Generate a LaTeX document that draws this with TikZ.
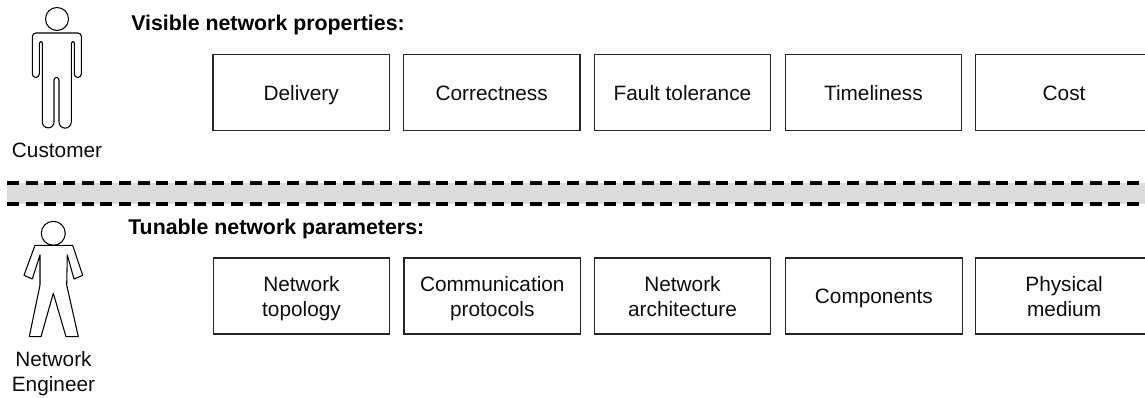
\documentclass[tikz,border=0pt]{standalone}
\usepackage{fontspec}
\setmainfont{Liberation Sans}
\newcommand{\lineprop}{\rule[-3.4pt]{0pt}{18.8pt}}
\tikzset{
  x=0.75pt,y=-0.75pt,
  txt/.style={font=\fontsize{15.6pt}{18.8pt}\selectfont,align=center,inner sep=0pt,text=black!95},
  topbox/.style={txt,draw=black!85,line width=0.95pt,minimum width=132.4pt,minimum height=57pt,anchor=north west},
  title/.style={font=\fontsize{16pt}{19pt}\selectfont\bfseries,inner sep=0pt,anchor=base west,text=black},
  figure/.style={draw=black,line width=0.8pt,fill=white,line join=round},
  sep/.style={draw=black,line width=2.6pt,dash pattern=on 9pt off 5pt},
}
\begin{document}
\begin{tikzpicture}
\useasboundingbox (0,0) rectangle (1145,398);
\clip (0,0) rectangle (1145,398);
% separator
\fill[black!14] (7,183) rectangle (1145,204);
\coordinate (s1a) at (7,183);\coordinate (s1b) at (1145,183);
\coordinate (s2a) at (7,204);\coordinate (s2b) at (1145,204);
\draw[sep] (s1a) -- (s1b);
\draw[sep] (s2a) -- (s2b);
% titles
\node[title] (t1) at (131,30.5) {Visible network properties:};
\node[title] (t2) at (128,235) {Tunable network parameters:};
% top boxes
\node[topbox] (a1) at (212.3,53.7) {\lineprop Delivery};
\node[topbox] (a2) at (402.8,53.7) {\lineprop Correctness};
\node[topbox] (a3) at (593.6,53.7) {\lineprop Fault tolerance};
\node[topbox] (a4) at (784.5,53.7) {\lineprop Timeliness};
\node[topbox] (a5) at (975.2,53.7) {\lineprop Cost};
% bottom boxes
\node[topbox] (b1) at (212.6,257.3) {\lineprop Network\\\lineprop topology};
\node[topbox] (b2) at (403.4,257.3) {\lineprop Communication\\\lineprop protocols};
\node[topbox] (b3) at (593.6,257.3) {\lineprop Network\\\lineprop architecture};
\node[topbox] (b4) at (785,257.3) {\lineprop Components};
\node[topbox] (b5) at (975.2,257.3) {\lineprop Physical\\\lineprop medium};
% customer
\draw[figure] (57,19) circle (11.5);
\draw[figure] (36,33) -- (78,33) arc (-90:0:3.3) -- (81.3,74)
  arc (0:180:3.5) -- (74.3,43) arc (0:-180:1.5) -- (71.3,122)
  arc (0:180:6.15) -- (59,80) arc (0:-180:2.5) -- (54,122)
  arc (0:180:5.85) -- (42.3,43) arc (0:-180:1.5) -- (39.3,74)
  arc (0:180:3.5) -- (32.3,36.7) arc (180:270:3.7) -- cycle;
\node[txt] (c) at (57,150) {\lineprop Customer};
% engineer
\draw[figure] (53.3,233.3) circle (12);
\draw[figure] (35,245.3) -- (72.7,245.3) -- (82.7,275.3) -- (74,279) -- (67.3,255)
  -- (66.7,285) -- (78.3,336.7) -- (66,336.7) -- (53.3,293.3) -- (41,336.7)
  -- (29.3,336.7) -- (40,285) -- (40,255) -- (32.3,279) -- (24,275.3) -- cycle;
\node[txt] (e) at (53.5,371) {\lineprop Network\\\lineprop Engineer};
\end{tikzpicture}
\end{document}
